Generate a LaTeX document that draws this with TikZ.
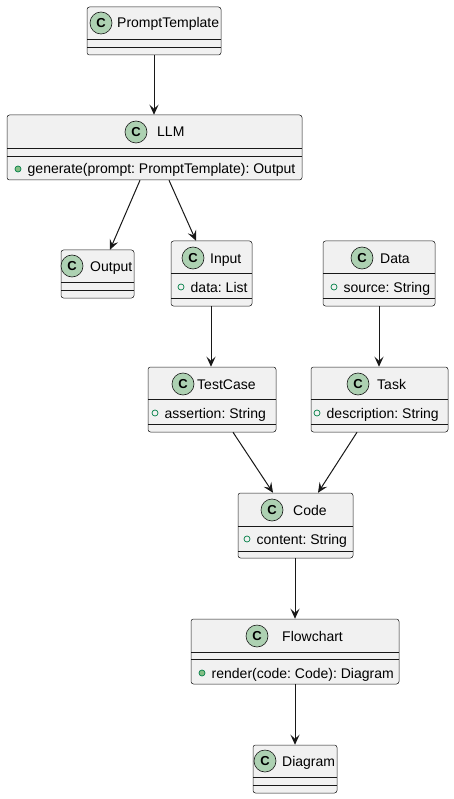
\documentclass[tikz,border=0pt]{standalone}
\usepackage{fontspec}
\setmainfont{Liberation Sans}
\usetikzlibrary{arrows.meta}
\frenchspacing
\definecolor{boxfill}{HTML}{F1F1F1}
\definecolor{ink}{HTML}{181818}
\definecolor{cfill}{HTML}{ADD1B2}
\definecolor{pubstroke}{HTML}{038048}
\definecolor{pubfill}{HTML}{84BE84}
\tikzset{
  classbox/.style={draw=ink, fill=boxfill, rounded corners=2.5pt, line width=0.5pt, inner sep=0pt},
  sepline/.style={draw=ink, line width=0.5pt},
  cbadge/.style={circle, draw=ink, fill=cfill, line width=0.6pt, minimum size=22pt, inner sep=0pt, font=\fontsize{13}{13}\selectfont\bfseries},
  cname/.style={anchor=base west, font=\fontsize{14}{16}\selectfont, text=black, inner sep=0pt},
  member/.style={anchor=base west, font=\fontsize{14}{16}\selectfont, text=black, inner sep=0pt},
  fieldmark/.style={circle, draw=pubstroke, line width=0.7pt, minimum size=6pt, inner sep=0pt},
  methodmark/.style={circle, draw=pubstroke, fill=pubfill, line width=0.7pt, minimum size=6pt, inner sep=0pt},
  assoc/.style={draw=ink, line width=1pt, -{Stealth[length=10pt,width=9pt,inset=4pt]}},
}
% #1 id, #2 left, #3 top, #4 right, #5 bottom, #6 sep1, #7 sep2
\newcommand{\umlclass}[7]{%
  \node[classbox, minimum width={(#4-#2)*1pt}, minimum height={(#5-#3)*1pt}] (#1) at ({(#2+#4)/2},{(#3+#5)/2}) {};
  \draw[sepline] (#2,#6) -- (#4,#6);
  \draw[sepline] (#2,#7) -- (#4,#7);
}
% #1 id, #2 circle x, #3 circle y, #4 text x, #5 name
\newcommand{\umlhead}[5]{%
  \node[cbadge] (#1c) at (#2,#3) {C};
  \node[cname] (#1n) at (#4,#3+5) {#5};
}
% #1 id, #2 mark style, #3 mark x, #4 y, #5 text
\newcommand{\umlmember}[5]{%
  \node[#2] (#1m) at (#3,#4) {};
  \node[member] (#1t) at (#3+9.5,#4+5) {#5};
}
\begin{document}
\begin{tikzpicture}[x=1pt,y=-1pt]
\useasboundingbox (0,0) rectangle (454,799);
\fill[white] (0,0) rectangle (454,799);

\umlclass{pt}{87}{7}{221}{55}{39}{47}
\umlhead{pt}{101}{23}{117}{PromptTemplate}

\umlclass{llm}{7}{115}{302}{180}{148}{156}
\umlhead{llm}{136}{132}{157}{LLM}
\umlmember{llm}{methodmark}{18}{169}{generate(prompt: PromptTemplate): Output}

\umlclass{out}{61}{250}{134}{298}{282}{290}
\umlhead{out}{72}{266}{90}{Output}

\umlclass{inp}{171}{241}{252}{306}{273}{298}
\umlhead{inp}{193}{258}{210}{Input}
\umlmember{inp}{fieldmark}{181}{287}{data: List}

\umlclass{data}{323}{241}{435}{306}{273}{298}
\umlhead{data}{362}{258}{380}{Data}
\umlmember{data}{fieldmark}{334}{287}{source: String}

\umlclass{tc}{148}{367}{276}{432}{399}{424}
\umlhead{tc}{183}{384}{197}{TestCase}
\umlmember{tc}{fieldmark}{155}{413}{assertion: String}

\umlclass{task}{311}{367}{448}{432}{399}{424}
\umlhead{task}{358}{384}{377}{Task}
\umlmember{task}{fieldmark}{317}{413}{description: String}

\umlclass{code}{238}{493}{353}{558}{526}{551}
\umlhead{code}{272}{510}{293}{Code}
\umlmember{code}{fieldmark}{247}{539}{content: String}

\umlclass{fc}{191}{619}{399}{684}{652}{659}
\umlhead{fc}{257}{636}{282}{Flowchart}
\umlmember{fc}{methodmark}{202}{673}{render(code: Code): Diagram}

\umlclass{dg}{253}{745}{337}{793}{777}{785}
\umlhead{dg}{265}{761}{282}{Diagram}

\draw[assoc] (pt.south) -- (llm.north -| pt.south);
\draw[assoc] (llm.south -| 140,0) -- (out.north -| 110,0);
\draw[assoc] (llm.south -| 169,0) -- (inp.north -| 196,0);
\draw[assoc] (inp.south -| 211,0) -- (tc.north -| 211,0);
\draw[assoc] (data.south -| 379,0) -- (task.north -| 379,0);
\draw[assoc] (tc.south -| 233,0) -- (code.north -| 273,0);
\draw[assoc] (task.south -| 357,0) -- (code.north -| 318,0);
\draw[assoc] (code.south -| 295,0) -- (fc.north -| 295,0);
\draw[assoc] (fc.south -| 295,0) -- (dg.north -| 295,0);
\end{tikzpicture}
\end{document}
